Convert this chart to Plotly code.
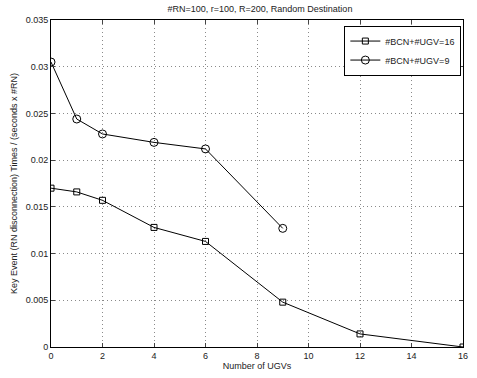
import plotly.graph_objects as go

x16 = [0, 1, 2, 4, 6, 9, 12, 16]
y16 = [0.0170, 0.0166, 0.0157, 0.0128, 0.0113, 0.0048, 0.0014, 0.0]
x9 = [0, 1, 2, 4, 6, 9]
y9 = [0.0305, 0.0244, 0.0228, 0.0219, 0.0212, 0.0127]
name16 = "#BCN+#UGV=16"
name9 = "#BCN+#UGV=9"
xticks = [0, 2, 4, 6, 8, 10, 12, 14, 16]
yticks = [0, 0.005, 0.01, 0.015, 0.02, 0.025, 0.03, 0.035]
ytick_labels = ["0", "0.005", "0.01", "0.015", "0.02", "0.025", "0.03", "0.035"]

fig = go.Figure()
fig.add_trace(go.Scatter(x=x16, y=y16, name=name16, mode="lines+markers",
                         line=dict(color="black", width=1),
                         marker=dict(symbol="square-open", size=6, color="black", line=dict(width=1))))
fig.add_trace(go.Scatter(x=x9, y=y9, name=name9, mode="lines+markers",
                         line=dict(color="black", width=1),
                         marker=dict(symbol="circle-open", size=8, color="black", line=dict(width=1))))

font = dict(family="Liberation Sans, Arial, sans-serif", size=9, color="#222")
grid = dict(showgrid=True, gridcolor="#8a8a8a", griddash="1px,3px", gridwidth=1)
fig.update_layout(
    width=477, height=378,
    margin=dict(l=51, r=9, t=20, b=30),
    paper_bgcolor="white", plot_bgcolor="white",
    font=font,
    title=dict(text="#RN=100, r=100, R=200, Random Destination", x=0.545, xanchor="center",
               y=1 - 9 / 378, yanchor="middle", font=dict(size=9)),
    legend=dict(x=0.996, y=0.983, xanchor="right", yanchor="top",
                bgcolor="white", bordercolor="black", borderwidth=1,
                font=dict(size=9), tracegroupgap=0, itemwidth=30),
    showlegend=True,
)
fig.update_xaxes(range=[0, 16], tickvals=xticks, ticks="inside", ticklen=4,
                 showline=True, linecolor="black", linewidth=1, mirror="ticks",
                 zeroline=False, title=dict(text="Number of UGVs", standoff=2, font=dict(size=9)), **grid)
fig.update_yaxes(range=[0, 0.035], tickvals=yticks, ticktext=ytick_labels, ticks="inside", ticklen=4,
                 showline=True, linecolor="black", linewidth=1, mirror="ticks",
                 zeroline=False,
                 title=dict(text="Key Event (RN disconnection) Times / (seconds x #RN)", standoff=6, font=dict(size=9)),
                 **grid)

fig.write_html("out.html")
